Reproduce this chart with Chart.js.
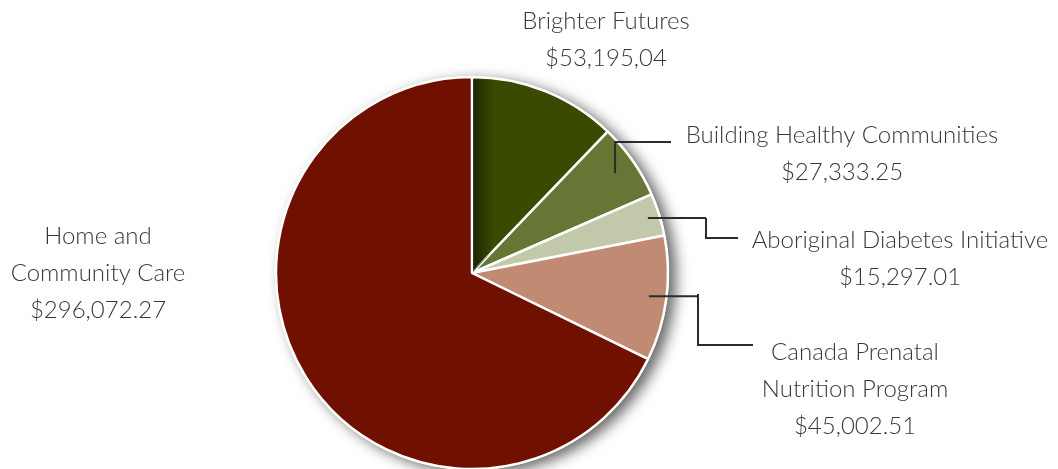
<!DOCTYPE html>
<html>
<head>
<meta charset="utf-8">
<script src="https://cdn.jsdelivr.net/npm/chart.js@4.4.0/dist/chart.umd.min.js"></script>
<style>
  html, body { margin: 0; padding: 0; background: #fff; overflow: hidden; }
  #wrap { width: 1058px; height: 469px; position: relative; }
</style>
</head>
<body>
<div id="wrap"><canvas id="pie"></canvas></div>
<script>
// data
const programs = [
    'Brighter Futures',
    'Building Healthy Communities',
    'Aboriginal Diabetes Initiative',
    'Canada Prenatal Nutrition Program',
    'Home and Community Care'
];
const amounts = [53195.04, 27333.25, 15297.01, 45002.51, 296072.27];
const amountLabels = ['$53,195,04', '$27,333.25', '$15,297.01', '$45,002.51', '$296,072.27'];
const sliceColours = ['#3a4a00', '#667634', '#c2c9ab', '#c08a73', '#701000'];

// where each label goes, and its elbow leader line (null = no leader)
const labelLayout = [
    {lines: ['Brighter Futures'], x: 606, y: 21, leader: null},
    {lines: ['Building Healthy Communities'], x: 842, y: 135, leader: {r: 0.89, pts: [[616, 142], [671, 142]]}},
    {lines: ['Aboriginal Diabetes Initiative'], x: 900, y: 240, leader: {r: 0.94, pts: [[706, 218], [706, 238], [738, 238]]}},
    {lines: ['Canada Prenatal', 'Nutrition Program'], x: 855, y: 352, leader: {r: 0.91, pts: [[698, 294], [698, 345], [753, 345]]}},
    {lines: ['Home and', 'Community Care'], x: 98, y: 236, leader: null}
];

const FONT = '300 24px Lato, "Open Sans", sans-serif';
const LINE_H = 37;

const shadowPlugin = {
    id: 'pieShadow',
    beforeDatasetsDraw(chart) {
        const arc = chart.getDatasetMeta(0).data[0];
        if (!arc) return;
        const ctx = chart.ctx;
        ctx.save();
        ctx.shadowColor = 'rgba(0,0,0,0.6)';
        ctx.shadowBlur = 14;
        ctx.shadowOffsetX = 7;
        ctx.shadowOffsetY = 4;
        ctx.fillStyle = '#fff';
        ctx.beginPath();
        ctx.arc(arc.x, arc.y, arc.outerRadius + 1, 0, Math.PI * 2);
        ctx.fill();
        ctx.restore();
    },
    afterDatasetsDraw(chart) {
        // darker shading along the left edge of the first slice
        const arc = chart.getDatasetMeta(0).data[0];
        if (!arc) return;
        const ctx = chart.ctx;
        ctx.save();
        ctx.beginPath();
        ctx.moveTo(arc.x, arc.y);
        ctx.arc(arc.x, arc.y, arc.outerRadius - 2, arc.startAngle, arc.endAngle);
        ctx.closePath();
        ctx.clip();
        const g = ctx.createLinearGradient(arc.x + 1, 0, arc.x + 22, 0);
        g.addColorStop(0, 'rgba(20,25,0,0.75)');
        g.addColorStop(1, 'rgba(20,25,0,0)');
        ctx.fillStyle = g;
        ctx.fillRect(arc.x + 1, arc.y - arc.outerRadius, 22, arc.outerRadius);
        ctx.restore();
    }
};

const labelPlugin = {
    id: 'sliceLabels',
    afterDatasetsDraw(chart) {
        const ctx = chart.ctx;
        const arcs = chart.getDatasetMeta(0).data;
        ctx.save();
        ctx.font = FONT;
        ctx.fillStyle = '#383838';
        ctx.textAlign = 'center';
        ctx.textBaseline = 'middle';
        labelLayout.forEach((lab, i) => {
            const arc = arcs[i];
            const lines = lab.lines.concat([amountLabels[i]]);
            lines.forEach((t, k) => ctx.fillText(t, lab.x, lab.y + k * LINE_H));
            if (lab.leader) {
                const mid = (arc.startAngle + arc.endAngle) / 2;
                const r = arc.outerRadius * lab.leader.r;
                const sx = arc.x + Math.cos(mid) * r;
                const sy = arc.y + Math.sin(mid) * r;
                ctx.strokeStyle = '#2b2b2b';
                ctx.lineWidth = 2;
                ctx.beginPath();
                ctx.moveTo(sx, sy);
                if (i === 1) ctx.lineTo(sx, lab.leader.pts[0][1]);
                else ctx.lineTo(lab.leader.pts[0][0], sy);
                lab.leader.pts.forEach(p => ctx.lineTo(p[0], p[1]));
                ctx.stroke();
            }
        });
        ctx.restore();
    }
};

new Chart(document.getElementById('pie'), {
    type: 'pie',
    data: {
        labels: programs,
        datasets: [{
            data: amounts,
            backgroundColor: sliceColours,
            borderColor: '#ffffff',
            borderWidth: 2.5
        }]
    },
    options: {
        responsive: true,
        maintainAspectRatio: false,
        animation: false,
        radius: 196,
        layout: {padding: {left: 100, right: 214, top: 100, bottom: 23}},
        plugins: {
            legend: {display: false},
            tooltip: {enabled: false}
        }
    },
    plugins: [shadowPlugin, labelPlugin]
});
</script>
</body>
</html>
